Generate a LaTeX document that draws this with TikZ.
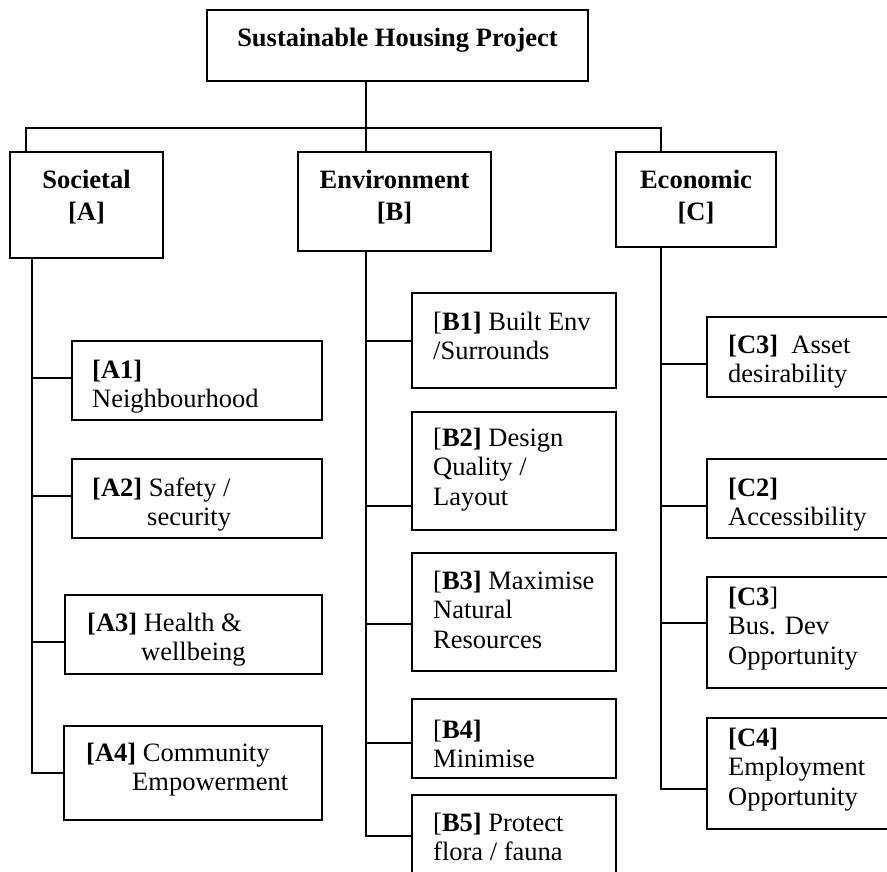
\documentclass[tikz,border=0pt]{standalone}
\usepackage{fontspec}
\setmainfont{Liberation Serif}
\begin{document}
\begin{tikzpicture}[x=1pt,y=-1pt,
  box/.style={draw, line width=1.8pt, rectangle, inner sep=0pt},
  conn/.style={line width=1.8pt},
  txt/.style={inner sep=0pt, anchor=base west, font=\fontsize{26.5}{29.5}\selectfont},
  head/.style={inner sep=0pt, anchor=base, font=\fontsize{26.5}{32}\selectfont\bfseries}]
\useasboundingbox (0,0) rectangle (887,871);
\fill[white] (0,0) rectangle (887,871);
\clip (0,0) rectangle (887,871);

% boxes
\node[box, minimum width=381pt, minimum height=71pt] (top) at (397.5,45.5) {};
\node[box, minimum width=153pt, minimum height=106pt] (soc) at (86.5,205) {};
\node[box, minimum width=193pt, minimum height=99pt] (env) at (394.5,201.5) {};
\node[box, minimum width=160pt, minimum height=95pt] (eco) at (696,199.5) {};

\node[box, minimum width=250pt, minimum height=79pt] (a1) at (197,380.5) {};
\node[box, minimum width=250pt, minimum height=79pt] (a2) at (197,498.5) {};
\node[box, minimum width=257pt, minimum height=79pt] (a3) at (193.5,634.5) {};
\node[box, minimum width=258pt, minimum height=94pt] (a4) at (193,773) {};

\node[box, minimum width=204pt, minimum height=95pt] (b1) at (514,340.5) {};
\node[box, minimum width=204pt, minimum height=118pt] (b2) at (514,471) {};
\node[box, minimum width=204pt, minimum height=118pt] (b3) at (514,612) {};
\node[box, minimum width=204pt, minimum height=79pt] (b4) at (514,738.5) {};
\node[box, minimum width=204pt, minimum height=105pt] (b5) at (514,847.5) {};

\node[box, minimum width=193pt, minimum height=80pt] (c3a) at (803.5,357) {};
\node[box, minimum width=193pt, minimum height=79pt] (c2) at (803.5,498.5) {};
\node[box, minimum width=193pt, minimum height=111pt] (c3b) at (803.5,632.5) {};
\node[box, minimum width=193pt, minimum height=111pt] (c4) at (803.5,773.5) {};

% texts
\node[head] (topt) at (397.5,46) {Sustainable Housing Project};
\node[head] (soct) at (86.5,188) {\parbox[t]{150pt}{\centering Societal\\\relax[A]}};
\node[head] (envt) at (394.5,188) {\parbox[t]{190pt}{\centering Environment\\\relax[B]}};
\node[head] (ecot) at (696,188) {\parbox[t]{156pt}{\centering Economic\\\relax[C]}};

\node[txt] (a1t) at (92,378) {\parbox[t]{300pt}{\textbf{[A1]}\\Neighbourhood}};
\node[txt] (a2t) at (92,496) {\parbox[t]{300pt}{\textbf{[A2]} Safety /\\\hspace*{55pt}security}};
\node[txt] (a3t) at (87,631) {\parbox[t]{300pt}{\textbf{[A3]} Health \&\\\hspace*{54pt}wellbeing}};
\node[txt] (a4t) at (86,761) {\parbox[t]{300pt}{\textbf{[A4]} Community\\\hspace*{46pt}Empowerment}};

\node[txt] (b1t) at (433,330) {\parbox[t]{300pt}{[\textbf{B1]} Built Env\\/Surrounds}};
\node[txt] (b2t) at (433,446) {\parbox[t]{300pt}{[\textbf{B2]} Design\\Quality /\\Layout}};
\node[txt] (b3t) at (433,589) {\parbox[t]{300pt}{[\textbf{B3]} Maximise\\Natural\\Resources}};
\node[txt] (b4t) at (433,738) {\parbox[t]{300pt}{[\textbf{B4]}\\Minimise}};
\node[txt] (b5t) at (433,831) {\parbox[t]{300pt}{[\textbf{B5]} Protect\\flora / fauna}};

\node[txt] (c3at) at (728,353) {\parbox[t]{300pt}{\textbf{[C3]}\ \ Asset\\desirability}};
\node[txt] (c2t) at (728,496) {\parbox[t]{300pt}{\textbf{[C2]}\\Accessibility}};
\node[txt] (c3bt) at (728,605) {\parbox[t]{300pt}{\textbf{[C3}]\\Bus. Dev\\Opportunity}};
\node[txt] (c4t) at (728,746) {\parbox[t]{300pt}{\textbf{[C4]}\\Employment\\Opportunity}};

% spine coordinates
\coordinate (aS) at (32,0);
\coordinate (bS) at (366,0);
\coordinate (cS) at (661,0);
\coordinate (busL) at (26,128);
\coordinate (busR) at (661,128);

% top connectors
\draw[conn] (top.south -| bS) -- (env.north -| bS);
\draw[conn] (soc.north -| busL) -- (busL) -- (busR) -- (eco.north -| busR);

% branch points
\coordinate (a1c) at ([yshift=2.5pt]a1.west);
\coordinate (a2c) at ([yshift=2.5pt]a2.west);
\coordinate (a3c) at ([yshift=-7.5pt]a3.west);
\coordinate (a4c) at (a4.west);
\coordinate (b1c) at ([yshift=-0.5pt]b1.west);
\coordinate (b2c) at ([yshift=-35pt]b2.west);
\coordinate (b3c) at ([yshift=-12pt]b3.west);
\coordinate (b4c) at ([yshift=-4.5pt]b4.west);
\coordinate (b5c) at ([yshift=11.5pt]b5.west);
\coordinate (c3ac) at ([yshift=-7pt]c3a.west);
\coordinate (c2c) at ([yshift=-7.5pt]c2.west);
\coordinate (c3bc) at ([yshift=9.5pt]c3b.west);
\coordinate (c4c) at ([yshift=-15.5pt]c4.west);

% spines
\draw[conn] (soc.south -| aS) |- (a4c);
\draw[conn] (env.south -| bS) |- (b5c);
\draw[conn] (eco.south -| cS) |- (c4c);

% branches
\foreach \p in {a1c,a2c,a3c} \draw[conn] (\p) -- (\p -| aS);
\foreach \p in {b1c,b2c,b3c,b4c} \draw[conn] (\p) -- (\p -| bS);
\foreach \p in {c3ac,c2c,c3bc} \draw[conn] (\p) -- (\p -| cS);
\end{tikzpicture}
\end{document}
